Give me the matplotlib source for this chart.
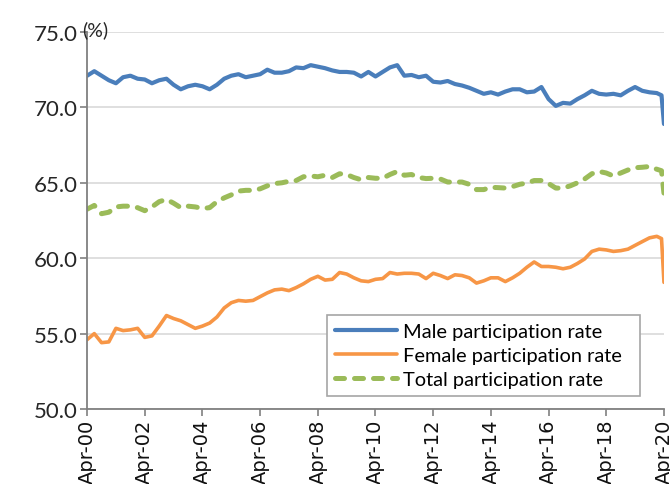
import numpy as np
import pandas as pd
import matplotlib
matplotlib.use("Agg")
import matplotlib.pyplot as plt
import matplotlib.dates as mdates
from matplotlib.ticker import FormatStrFormatter
from matplotlib.transforms import offset_copy

plt.rcParams['font.family'] = ['Lato', 'DejaVu Sans']

# quarterly readings from Apr-00 to Jan-20, then Mar-20 and Apr-20
dates = pd.date_range('2000-04-01', '2020-01-01', freq='3MS').append(
    pd.DatetimeIndex(['2020-03-01', '2020-04-01']))

male = [72.1, 72.4, 72.1, 71.8, 71.6, 72.0, 72.1, 71.9, 71.85, 71.6,
        71.8, 71.9, 71.5, 71.2, 71.4, 71.5, 71.4, 71.2, 71.5, 71.9,
        72.1, 72.2, 72.0, 72.1, 72.2, 72.5, 72.3, 72.3, 72.4, 72.65,
        72.6, 72.8, 72.7, 72.6, 72.45, 72.35, 72.35, 72.3, 72.05, 72.35,
        72.05, 72.35, 72.65, 72.8, 72.1, 72.15, 72.0, 72.1, 71.7, 71.65,
        71.75, 71.55, 71.45, 71.3, 71.1, 70.9, 71.0, 70.85, 71.05, 71.2,
        71.2, 71.0, 71.05, 71.35, 70.55, 70.1, 70.3, 70.25, 70.55, 70.8,
        71.1, 70.9, 70.85, 70.9, 70.8, 71.1, 71.35, 71.1, 71.0, 70.95,
        70.8, 68.9]

female = [54.6, 55.0, 54.4, 54.45, 55.35, 55.2, 55.25, 55.35, 54.75, 54.85,
          55.5, 56.2, 56.0, 55.85, 55.6, 55.35, 55.5, 55.7, 56.1, 56.7,
          57.05, 57.2, 57.15, 57.2, 57.45, 57.7, 57.9, 57.95, 57.85, 58.05,
          58.3, 58.6, 58.8, 58.55, 58.6, 59.05, 58.95, 58.7, 58.5, 58.45,
          58.6, 58.65, 59.05, 58.95, 59.0, 59.0, 58.95, 58.65, 59.0, 58.85,
          58.65, 58.9, 58.85, 58.7, 58.35, 58.5, 58.7, 58.7, 58.45, 58.7,
          59.0, 59.4, 59.75, 59.45, 59.45, 59.4, 59.3, 59.4, 59.65, 59.95,
          60.45, 60.6, 60.55, 60.45, 60.5, 60.6, 60.85, 61.1, 61.35, 61.45,
          61.3, 58.4]

total = [63.25, 63.5, 62.95, 63.05, 63.4, 63.45, 63.45, 63.35, 63.15, 63.4,
         63.75, 63.9, 63.65, 63.35, 63.45, 63.4, 63.3, 63.35, 63.75, 64.0,
         64.2, 64.45, 64.5, 64.5, 64.6, 64.8, 64.95, 65.0, 65.1, 65.15,
         65.4, 65.45, 65.4, 65.5, 65.35, 65.6, 65.55, 65.35, 65.2, 65.35,
         65.3, 65.3, 65.55, 65.75, 65.5, 65.55, 65.35, 65.28, 65.3, 65.25,
         65.05, 65.05, 65.05, 64.9, 64.55, 64.55, 64.7, 64.68, 64.65, 64.75,
         64.9, 64.98, 65.15, 65.15, 64.95, 64.65, 64.65, 64.8, 65.0, 65.25,
         65.6, 65.75, 65.65, 65.45, 65.65, 65.85, 66.0, 66.03, 66.08, 65.9,
         65.8, 64.3]

labels = ['Male participation rate', 'Female participation rate',
          'Total participation rate']
y_ticks = [50, 55, 60, 65, 70, 75]

fig = plt.figure(figsize=(6.7, 4.85), dpi=100)
ax = fig.add_axes([0.13, 0.1546, 0.861, 0.7774])

ax.plot(dates, male, color='#4a7ebb', lw=3.0, label=labels[0],
        solid_joinstyle='round', solid_capstyle='round')
ax.plot(dates, female, color='#f79646', lw=2.6, label=labels[1],
        solid_joinstyle='round', solid_capstyle='round')
ax.plot(dates, total, color='#9bbb59', lw=3.6, ls=(0, (1.8, 2.0)),
        label=labels[2], dash_capstyle='round')

ax.set_ylim(50, 75)
ax.set_yticks(y_ticks)
ax.yaxis.set_major_formatter(FormatStrFormatter('%.1f'))
ax.set_xlim(pd.Timestamp('2000-04-01'), pd.Timestamp('2020-04-01'))
ax.set_xticks(pd.date_range('2000-04-01', '2020-04-01', freq='24MS'))
ax.xaxis.set_major_formatter(mdates.DateFormatter('%b-%y'))

ax.grid(axis='y', color='#d9d9d9', lw=1.2)
ax.set_axisbelow(True)
for side in ['top', 'right']:
    ax.spines[side].set_visible(False)
for side in ['left', 'bottom']:
    ax.spines[side].set_color('#808080')
    ax.spines[side].set_linewidth(1.3)
ax.tick_params(axis='y', length=5, width=1.2, color='#808080',
               labelsize=16, labelcolor='#262626', pad=2)
ax.tick_params(axis='x', length=5, width=1.2, color='#808080',
               labelsize=14, labelcolor='#111111', pad=2)
plt.setp(ax.get_xticklabels(), rotation=90, fontfamily='DejaVu Sans')

pct_tr = offset_copy(ax.transAxes, fig=fig, x=-5, y=3, units='dots')
ax.text(0.0, 1.0, '(%)', transform=pct_tr, fontsize=14,
        color='#262626', ha='left', va='center')

leg = ax.legend(loc='upper left', bbox_to_anchor=(0.416, 0.027, 0.5425, 0.222),
                mode='expand', borderaxespad=0, fontsize=14.4,
                handlelength=3.1, handletextpad=0.3, borderpad=0.4,
                labelspacing=0.35, fancybox=False, framealpha=1,
                edgecolor='#a6a6a6')
leg.get_frame().set_linewidth(1.2)

fig.savefig('out.png', dpi=100)
